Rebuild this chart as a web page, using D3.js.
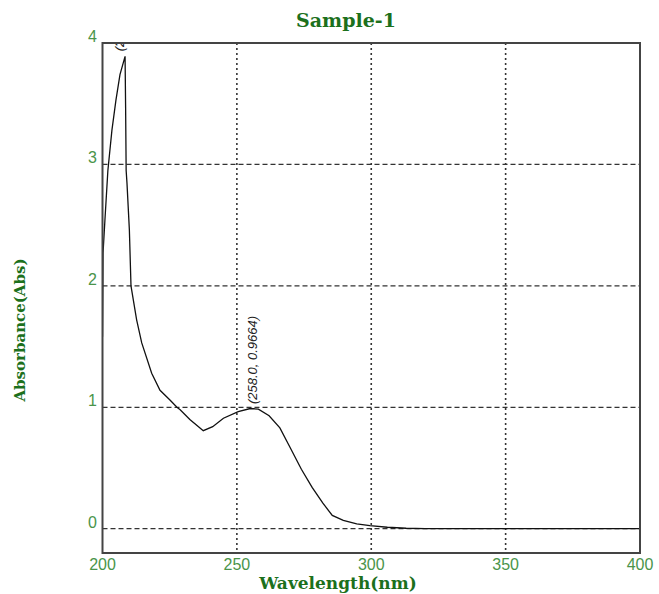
<!DOCTYPE html>
<html>
<head>
<meta charset="utf-8">
<script src="https://cdn.jsdelivr.net/npm/d3@7"></script>
<style>
  body { margin: 0; background: #fff; }
  .tick-label { font-family: "Liberation Sans", Arial, sans-serif; font-size: 16px; fill: #4a944a; }
  .axis-title { font-family: "DejaVu Serif", "Liberation Serif", serif; font-weight: bold; fill: #1c701c; }
</style>
</head>
<body>
<div id="chart"></div>
<script>
// spectrum
var wavelengths = [200.0, 200.2, 200.9, 202.0, 203.5, 205.0, 206.5, 208.4, 208.6, 208.8, 209.1, 210.0, 210.6,
  212.7, 214.6, 218.3, 221.4, 225.1, 227.7, 228.9, 232.5, 237.5, 241.0, 245.0, 250.5, 255.0, 258.0,
  262.0, 266.0, 270.0, 274.0, 278.0, 282.0, 285.5, 289.6, 294.6, 299.5, 306.0, 313.0, 320.0, 400.0];
var absorbance = [1.58, 2.27, 2.54, 2.95, 3.28, 3.53, 3.74, 3.89, 3.47, 2.95, 2.85, 2.46, 2.00,
  1.72, 1.53, 1.28, 1.14, 1.06, 1.00, 0.98, 0.90, 0.807, 0.84, 0.91, 0.965, 0.99, 0.985,
  0.93, 0.83, 0.66, 0.49, 0.34, 0.21, 0.11, 0.068, 0.04, 0.025, 0.012, 0.004, 0.0, 0.0];

var xTicks = [200, 250, 300, 350, 400];
var yTicks = [0, 1, 2, 3, 4];

// peak picks
var peakX = [208.4, 258.0];
var peakY = [3.89, 0.985];
var peakLabels = ["(208.4, 3.8912)", "(258.0, 0.9664)"];

var W = 659, H = 594;
var margin = {top: 43, right: 19, bottom: 41, left: 102.5};
var w = W - margin.left - margin.right,
    h = H - margin.top - margin.bottom;

var svg = d3.select("#chart").append("svg")
  .attr("width", W).attr("height", H);

var x = d3.scaleLinear().domain([200, 400]).range([margin.left, margin.left + w]);
var y = d3.scaleLinear().domain([-0.2, 4]).range([margin.top + h, margin.top]);

svg.append("defs").append("clipPath").attr("id", "clip")
  .append("rect")
  .attr("x", margin.left).attr("y", margin.top)
  .attr("width", w).attr("height", h);

// grid
svg.selectAll("line.vgrid")
  .data(xTicks.filter(function(d){ return d > 200 && d < 400; }))
  .enter().append("line")
  .attr("class", "vgrid")
  .attr("x1", function(d){ return x(d); }).attr("x2", function(d){ return x(d); })
  .attr("y1", margin.top).attr("y2", margin.top + h)
  .attr("stroke", "#333").attr("stroke-width", 1.6)
  .attr("stroke-dasharray", "2,3");

svg.selectAll("line.hgrid")
  .data(yTicks.filter(function(d){ return d < 4; }))
  .enter().append("line")
  .attr("class", "hgrid")
  .attr("x1", margin.left).attr("x2", margin.left + w)
  .attr("y1", function(d){ return y(d); }).attr("y2", function(d){ return y(d); })
  .attr("stroke", "#333").attr("stroke-width", 1.2)
  .attr("stroke-dasharray", "5,3");

// spectrum
var pts = wavelengths.map(function(d, i){ return [d, absorbance[i]]; });
var line = d3.line()
  .x(function(d){ return x(d[0]); })
  .y(function(d){ return y(d[1]); });

var body = svg.append("g").attr("clip-path", "url(#clip)");

body.append("path")
  .datum(pts)
  .attr("d", line)
  .attr("fill", "none")
  .attr("stroke", "#111")
  .attr("stroke-width", 1.3);

// peak labels, rotated, clipped by the frame like the original
body.selectAll("text.peak")
  .data(peakX)
  .enter().append("text")
  .attr("class", "peak")
  .attr("transform", function(d, i){
    return "translate(" + (x(d) - 1) + "," + (y(peakY[i]) - 5) + ") rotate(-90)";
  })
  .style("font-family", "'Liberation Sans', Arial, sans-serif")
  .style("font-style", "italic")
  .style("font-size", "13px")
  .attr("fill", "#222")
  .text(function(d, i){ return peakLabels[i]; });

// frame
svg.append("rect")
  .attr("x", margin.left).attr("y", margin.top)
  .attr("width", w).attr("height", h)
  .attr("fill", "none")
  .attr("stroke", "#444")
  .attr("stroke-width", 2);

// tick labels
svg.selectAll("text.xt")
  .data(xTicks)
  .enter().append("text")
  .attr("class", "tick-label")
  .attr("x", function(d){ return x(d); })
  .attr("y", 570)
  .attr("text-anchor", "middle")
  .text(function(d){ return d; });

svg.selectAll("text.yt")
  .data(yTicks)
  .enter().append("text")
  .attr("class", "tick-label")
  .attr("x", 97)
  .attr("y", function(d){ return y(d) - 1; })
  .attr("text-anchor", "end")
  .text(function(d){ return d; });

// titles
svg.append("text")
  .attr("class", "axis-title")
  .attr("x", 346).attr("y", 27)
  .attr("text-anchor", "middle")
  .style("font-size", "19px")
  .text("Sample-1");

svg.append("text")
  .attr("class", "axis-title")
  .attr("x", 338).attr("y", 589)
  .attr("text-anchor", "middle")
  .style("font-size", "17px")
  .text("Wavelength(nm)");

svg.append("text")
  .attr("class", "axis-title")
  .attr("transform", "translate(25,330) rotate(-90)")
  .attr("text-anchor", "middle")
  .style("font-size", "15px")
  .text("Absorbance(Abs)");
</script>
</body>
</html>
